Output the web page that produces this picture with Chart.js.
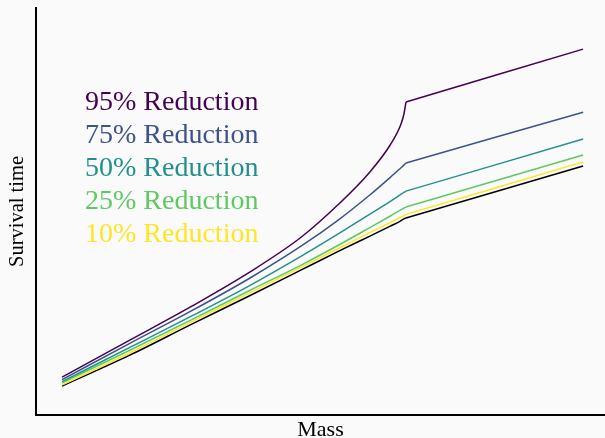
<!DOCTYPE html>
<html>
<head>
<meta charset="utf-8">
<script src="https://cdn.jsdelivr.net/npm/chart.js@4.4.1/dist/chart.umd.min.js"></script>
<style>
  html, body { margin: 0; padding: 0; background: #fafafa; }
  canvas { display: block; }
</style>
</head>
<body>
<canvas id="chart" width="605" height="438"></canvas>
<script>
// Body mass (arbitrary units); the metabolic break point sits at mass 66
const mass = [0, 13, 25, 36, 46, 53, 59, 63, 65, 65.6, 66, 83, 100];
const breakMass = 66;

// Survival time for each reduction scenario (arbitrary units)
const baseline     = [7.1, 14.7, 22.4, 29.3, 35.7, 40.2, 43.9, 46.4, 47.7, 48.2, 48.4, 54.8, 61.2];
const reduction10  = [7.4, 15.3, 23.0, 30.0, 36.4, 40.9, 44.8, 47.3, 48.6, 49.0, 49.3, 55.7, 62.2];
const reduction25  = [7.9, 15.9, 23.5, 30.6, 36.9, 41.7, 46.0, 48.9, 50.4, 50.8, 51.1, 57.5, 63.9];
const reduction50  = [8.2, 16.6, 24.4, 31.8, 39.1, 44.5, 49.3, 52.5, 54.2, 54.7, 55.0, 61.4, 67.8];
const reduction75  = [8.7, 17.6, 25.7, 33.6, 41.6, 47.9, 54.0, 58.4, 60.7, 61.4, 61.9, 68.2, 74.4];
const reduction95  = [9.3, 18.4, 26.8, 35.1, 43.8, 51.7, 59.6, 66.4, 71.3, 73.9, 76.9, 83.4, 89.9];

const seriesLabels = ['95% Reduction', '75% Reduction', '50% Reduction', '25% Reduction', '10% Reduction'];
const seriesColors = ['#440154', '#3b528b', '#21908d', '#5ec962', '#fde725'];
const seriesValues = [reduction95, reduction75, reduction50, reduction25, reduction10];

const toPoints = ys => mass.map((m, i) => ({ x: m, y: ys[i] }));

// Each curve is smooth below the break point and straight above it,
// so it is drawn as two pieces that meet at the break.
function curvePieces(label, ys, color) {
  const pts = toPoints(ys);
  const common = { borderColor: color, borderWidth: 1.5, pointRadius: 0, fill: false };
  return [
    Object.assign({ label, data: pts.filter(p => p.x <= breakMass), cubicInterpolationMode: 'monotone' }, common),
    Object.assign({ label, data: pts.filter(p => p.x >= breakMass), tension: 0 }, common)
  ];
}

const datasets = [];
seriesValues.forEach((ys, i) => datasets.push(...curvePieces(seriesLabels[i], ys, seriesColors[i])));
datasets.push(...curvePieces('Baseline', baseline, '#000000'));

// Coloured scenario names written inside the plot
const textLegend = {
  id: 'textLegend',
  afterDatasetsDraw(chart) {
    const ctx = chart.ctx;
    ctx.save();
    ctx.font = '28px "Liberation Serif", "Times New Roman", serif';
    ctx.textBaseline = 'alphabetic';
    ctx.textAlign = 'left';
    seriesLabels.forEach((label, i) => {
      ctx.fillStyle = seriesColors[i];
      ctx.fillText(label, 85, 110 + i * 33);
    });
    ctx.restore();
  }
};

const serif = '"Liberation Serif", "Times New Roman", serif';

new Chart(document.getElementById('chart'), {
  type: 'line',
  data: { datasets },
  plugins: [textLegend],
  options: {
    responsive: false,
    animation: false,
    devicePixelRatio: 1,
    layout: { padding: { top: 8, right: 0, bottom: 0, left: 0 } },
    plugins: { legend: { display: false }, tooltip: { enabled: false } },
    scales: {
      x: {
        type: 'linear',
        min: -5,
        max: 104.2,
        grid: { display: false },
        ticks: { display: false },
        border: { display: true, color: '#000000', width: 2 },
        title: {
          display: true,
          text: 'Mass',
          color: '#000000',
          font: { family: serif, size: 22 },
          padding: { top: 0, bottom: -5 }
        },
        afterFit(scale) { scale.height = 23; }
      },
      y: {
        type: 'linear',
        min: 0,
        max: 100,
        grid: { display: false },
        ticks: { display: false },
        border: { display: true, color: '#000000', width: 2 },
        title: {
          display: true,
          text: 'Survival time',
          color: '#000000',
          font: { family: serif, size: 20.5 },
          padding: { top: 5, bottom: 0 }
        },
        afterFit(scale) { scale.width = 36; }
      }
    }
  }
});
</script>
</body>
</html>
